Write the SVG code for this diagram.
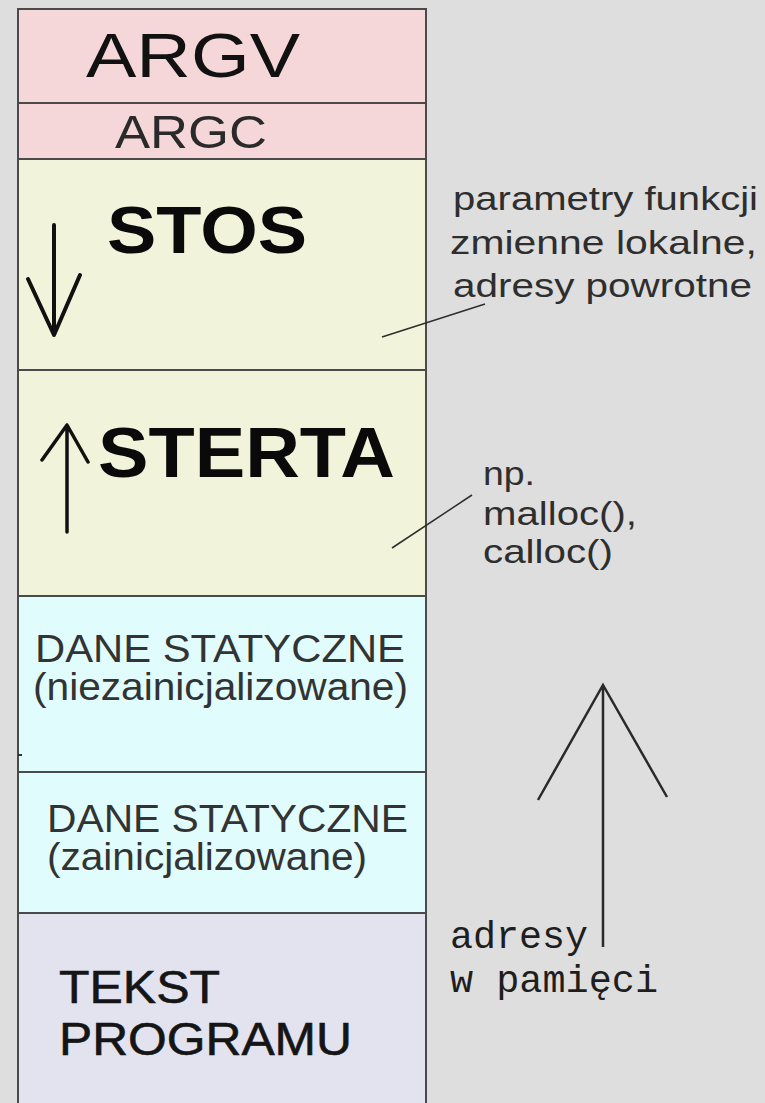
<svg xmlns="http://www.w3.org/2000/svg" width="765" height="1103" viewBox="0 0 765 1103">
  <style>
    .seg { stroke: #4a4a4a; stroke-width: 2; }
    .sans { font-family: "Liberation Sans", Arial, sans-serif; }
    .mono { font-family: "Liberation Mono", "Courier New", monospace; fill: #1e1e1e; }
    .note { font-family: "Liberation Sans", Arial, sans-serif; font-size: 33px; fill: #2e2e2e; }
    .lead { stroke: #2e2e2e; stroke-width: 1.5; fill: none; }
    .arrow { stroke: #111; fill: none; stroke-linecap: round; stroke-linejoin: round; }
  </style>

  <!-- page background -->
  <rect x="0" y="0" width="765" height="1103" fill="#dedede"/>

  <!-- memory layout column, top to bottom -->
  <g id="argv">
    <rect class="seg" x="18" y="9" width="408" height="94" fill="#f5d7d9"/>
    <text class="sans" x="86" y="77" font-size="63" fill="#111" textLength="214" lengthAdjust="spacingAndGlyphs">ARGV</text>
  </g>

  <g id="argc">
    <rect class="seg" x="18" y="103" width="408" height="56" fill="#f5d7d9"/>
    <text class="sans" x="115" y="148" font-size="46" fill="#2a2a2a" textLength="152" lengthAdjust="spacingAndGlyphs">ARGC</text>
  </g>

  <g id="stos">
    <rect class="seg" x="18" y="159" width="408" height="211" fill="#f1f4da"/>
    <text class="sans" x="107" y="253" font-size="67" font-weight="bold" fill="#0a0a0a" textLength="200" lengthAdjust="spacingAndGlyphs">STOS</text>
    <path class="arrow" stroke-width="4" d="M54 225 V335 M28 279 L54 335 L80 275"/>
  </g>

  <g id="sterta">
    <rect class="seg" x="18" y="370" width="408" height="226" fill="#f1f4da"/>
    <text class="sans" x="98" y="477" font-size="70" font-weight="bold" fill="#0a0a0a" textLength="297" lengthAdjust="spacingAndGlyphs">STERTA</text>
    <path class="arrow" stroke-width="3.5" d="M67 532 V425 M42 460 L67 425 L88 462"/>
  </g>

  <g id="dane-niezainicjalizowane">
    <rect class="seg" x="18" y="596" width="408" height="176" fill="#e1fcfd"/>
    <text class="sans" x="35" y="662" font-size="38" fill="#333" textLength="370" lengthAdjust="spacingAndGlyphs">DANE STATYCZNE</text>
    <text class="sans" x="33" y="700" font-size="38" fill="#333" textLength="375" lengthAdjust="spacingAndGlyphs">(niezainicjalizowane)</text>
    <line x1="18" y1="755" x2="22" y2="755" stroke="#333" stroke-width="2"/>
  </g>

  <g id="dane-zainicjalizowane">
    <rect class="seg" x="18" y="772" width="408" height="141" fill="#e1fcfd"/>
    <text class="sans" x="47" y="832" font-size="38" fill="#333" textLength="361" lengthAdjust="spacingAndGlyphs">DANE STATYCZNE</text>
    <text class="sans" x="47" y="870" font-size="38" fill="#333" textLength="320" lengthAdjust="spacingAndGlyphs">(zainicjalizowane)</text>
  </g>

  <g id="tekst-programu">
    <rect class="seg" x="18" y="913" width="408" height="210" fill="#e3e3f0"/>
    <text class="sans" x="59" y="1003" font-size="46" fill="#151515" stroke="#151515" stroke-width="0.6" textLength="161" lengthAdjust="spacingAndGlyphs">TEKST</text>
    <text class="sans" x="59" y="1055" font-size="46" fill="#151515" stroke="#151515" stroke-width="0.6" textLength="293" lengthAdjust="spacingAndGlyphs">PROGRAMU</text>
  </g>

  <!-- side notes -->
  <g id="note-stos">
    <text class="note" x="453" y="210" textLength="305" lengthAdjust="spacingAndGlyphs">parametry funkcji</text>
    <text class="note" x="450" y="254" textLength="307" lengthAdjust="spacingAndGlyphs">zmienne lokalne,</text>
    <text class="note" x="453" y="297" textLength="299" lengthAdjust="spacingAndGlyphs">adresy powrotne</text>
  </g>

  <g id="note-sterta">
    <text class="note" x="483" y="485" textLength="52" lengthAdjust="spacingAndGlyphs">np.</text>
    <text class="note" x="483" y="525" textLength="154" lengthAdjust="spacingAndGlyphs">malloc(),</text>
    <text class="note" x="483" y="563" textLength="130" lengthAdjust="spacingAndGlyphs">calloc()</text>
  </g>

  <g id="address-axis">
    <text class="mono" x="450" y="948" font-size="38" textLength="138" lengthAdjust="spacingAndGlyphs">adresy</text>
    <text class="mono" x="450" y="992" font-size="38" textLength="208" lengthAdjust="spacingAndGlyphs">w pamięci</text>
  </g>

  <!-- connectors -->
  <g id="connectors">
    <line class="lead" x1="382" y1="337" x2="485" y2="304"/>
    <line class="lead" x1="392" y1="548" x2="472" y2="495"/>
    <path stroke="#2a2a2a" stroke-width="2.5" fill="none" d="M603 947 V685 M538 800 L603 685 L667 797"/>
  </g>
</svg>
